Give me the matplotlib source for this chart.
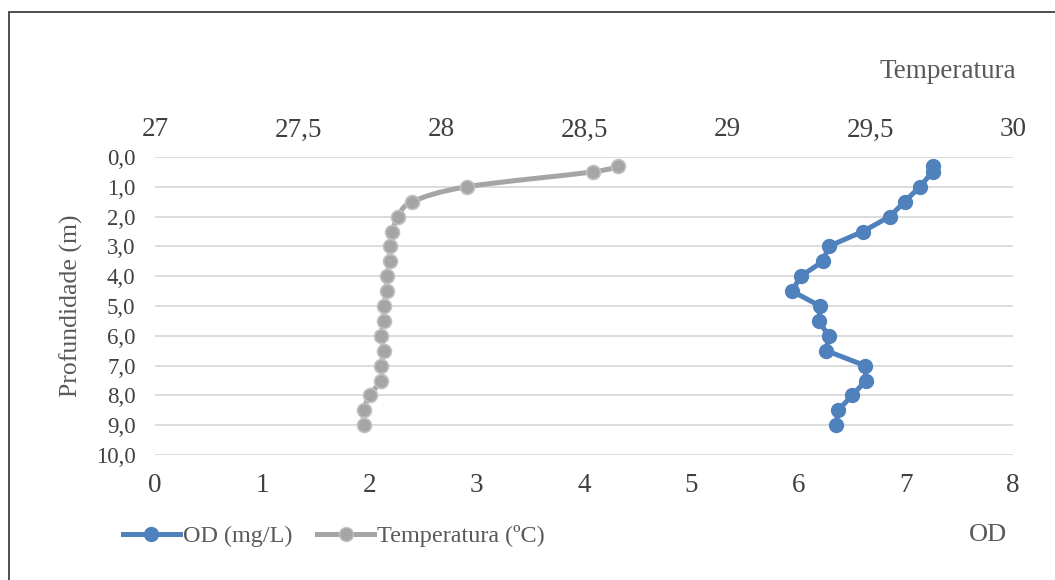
import numpy as np
import matplotlib
matplotlib.use("Agg")
import matplotlib.pyplot as plt
from matplotlib.path import Path
from matplotlib.patches import PathPatch, Rectangle
from matplotlib.lines import Line2D
from matplotlib.ticker import FuncFormatter, MultipleLocator

plt.rcParams['font.family'] = ['Liberation Serif', 'DejaVu Serif']

# depth (m) and the two profiles
depth = [0.3, 0.5, 1.0, 1.5, 2.0, 2.5, 3.0, 3.5, 4.0, 4.5,
         5.0, 5.5, 6.0, 6.5, 7.0, 7.5, 8.0, 8.5, 9.0]
od = [7.25, 7.25, 7.13, 6.99, 6.85, 6.60, 6.28, 6.23, 6.02, 5.94,
      6.20, 6.19, 6.28, 6.26, 6.62, 6.63, 6.50, 6.37, 6.35]
temp = [28.62, 28.53, 28.09, 27.90, 27.85, 27.83, 27.82, 27.82, 27.81, 27.81,
        27.80, 27.80, 27.79, 27.80, 27.79, 27.79, 27.75, 27.73, 27.73]

blue = '#4F81BD'
grey = '#A5A5A5'
txt = '#404040'
title_c = '#595959'

W, H = 1055, 580
fig = plt.figure(figsize=(W / 100, H / 100), dpi=100)
ax = fig.add_axes([155 / W, 1 - 455 / H, (1013 - 155) / W, (455 - 157) / H])

# outer chart border (runs off the right and bottom edges)
fig.add_artist(Rectangle((9 / W, -0.1), 1.2, 1 - 12 / H + 0.1,
                         transform=fig.transFigure, fill=False,
                         ec='#404040', lw=1.3))

ax.set_xlim(0, 8)
ax.set_ylim(10, 0)
ax.xaxis.set_major_locator(MultipleLocator(1))
ax.yaxis.set_major_locator(MultipleLocator(1))
ax.yaxis.set_major_formatter(FuncFormatter(lambda v, p: f"{v:.1f}".replace('.', ',')))
ax.grid(axis='y', color='#D9D9D9', lw=1.3)
ax.set_axisbelow(True)
for s in ax.spines.values():
    s.set_visible(False)
ax.tick_params(axis='x', length=0, pad=13, labelsize=19.5, labelcolor=txt)
ax.tick_params(axis='y', length=0, pad=14, labelsize=16.5, labelcolor=txt)

ax.plot(od, depth, color=blue, lw=3.6, marker='o', ms=10,
        mfc=blue, mec=blue, solid_joinstyle='round', solid_capstyle='round',
        zorder=3, clip_on=False)

# temperature on top axis
ax2 = ax.twiny()
ax2.set_xlim(27, 30)
ax2.xaxis.set_major_locator(MultipleLocator(0.5))
ax2.xaxis.set_major_formatter(FuncFormatter(lambda v, p: f"{v:g}".replace('.', ',')))
for s in ax2.spines.values():
    s.set_visible(False)
ax2.tick_params(axis='x', length=0, pad=10.5, labelsize=19.5, labelcolor=txt)

# smoothed line through the temperature points (Catmull-Rom as cubic Bezier)
pts = np.column_stack([temp, depth])
verts = [pts[0]]
codes = [Path.MOVETO]
n = len(pts)
for i in range(n - 1):
    p0 = pts[max(i - 1, 0)]
    p1 = pts[i]
    p2 = pts[i + 1]
    p3 = pts[min(i + 2, n - 1)]
    verts += [p1 + (p2 - p0) / 6, p2 - (p3 - p1) / 6, p2]
    codes += [Path.CURVE4] * 3
ax2.add_patch(PathPatch(Path(verts, codes), fc='none', ec=grey, lw=3.6,
                        capstyle='round', joinstyle='round', zorder=3))
ax2.plot(temp, depth, ls='none', marker='o', ms=10, mfc=grey, mec='#C0C0C0',
         mew=1.2, zorder=4, clip_on=False)

ax.set_ylabel('Profundidade (m)', fontsize=18.5, color=title_c)
ax.yaxis.set_label_coords((83 - 155) / 858, 0.5)
fig.text(948 / W, 1 - 71 / H, 'Temperatura', fontsize=19.5, color=title_c,
         ha='center', va='center')
fig.text(988 / W, 1 - 535 / H, 'OD', fontsize=19, color=title_c,
         ha='center', va='center')

handles = [
    Line2D([], [], color=blue, lw=3.6, marker='o', ms=10, mfc=blue, mec=blue),
    Line2D([], [], color=grey, lw=3.6, marker='o', ms=10, mfc=grey, mec='#C0C0C0'),
]
fig.legend(handles, ['OD (mg/L)', 'Temperatura (ºC)'], ncol=2, frameon=False,
           loc='center left', bbox_to_anchor=(123 / W, 1 - 536 / H),
           fontsize=17.4, labelcolor=title_c, handlelength=2.35,
           handletextpad=0.12, columnspacing=1.05, borderpad=0, borderaxespad=0)

fig.savefig('out.png', dpi=100)
